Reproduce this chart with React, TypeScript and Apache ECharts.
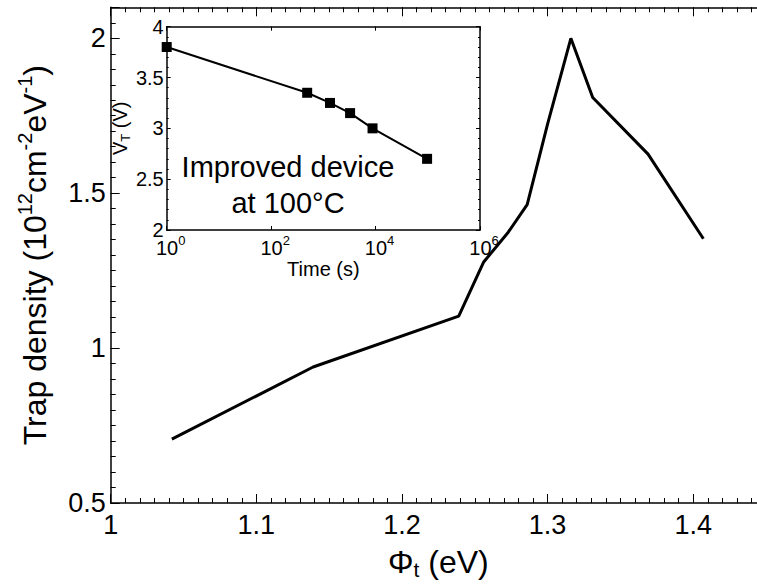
import React, { useEffect, useRef } from 'react';
import * as echarts from 'echarts';

// Main plot: trap density vs trap energy level
const phiT = [1.042, 1.139, 1.239, 1.256, 1.273, 1.286, 1.3, 1.316, 1.331, 1.369, 1.407];
const trapDensity = [0.706, 0.939, 1.103, 1.277, 1.374, 1.463, 1.723, 2.0, 1.809, 1.626, 1.353];

// Inset: threshold voltage vs time
const timeS = [1, 490, 1340, 3250, 8750, 97000];
const vtV = [3.8, 3.35, 3.25, 3.15, 3.0, 2.7];

// Tick labels
const xTickLabels = ['1', '1.1', '1.2', '1.3', '1.4'];
const yTickLabels = ['0.5', '1', '1.5', '2'];
const insetYTickLabels = ['2', '2.5', '3', '3.5', '4'];
const insetXExponents = [0, 2, 4, 6];

const FONT = "'Liberation Sans', Arial, sans-serif";
const BLACK = '#000';

export default function App() {
  const ref = useRef<HTMLDivElement>(null);

  useEffect(() => {
    if (!ref.current) return;
    const chart = echarts.init(ref.current, undefined, { renderer: 'svg' });

    const mainXFmt = (v: number) => {
      const s = String(Math.round(v * 100) / 100);
      return xTickLabels.includes(s) ? s : '';
    };
    const mainYFmt = (v: number) => {
      const s = String(Math.round(v * 100) / 100);
      return yTickLabels.includes(s) ? s : '';
    };
    const insetYFmt = (v: number) => {
      const s = String(Math.round(v * 100) / 100);
      return insetYTickLabels.includes(s) ? s : '';
    };
    const insetXFmt = (v: number) => {
      const e = Math.round(Math.log10(v));
      return insetXExponents.includes(e) ? `{b|10}{s|${e}}` : '';
    };

    const axisLine = { show: true, lineStyle: { color: BLACK, width: 1.5 } };
    const hidden = { show: false };
    const tick = (length: number) => ({
      show: true,
      inside: true,
      length,
      lineStyle: { color: BLACK, width: 1 },
    });

    const mainXBase = { gridIndex: 0, type: 'value' as const, min: 1, max: 1.45, splitLine: hidden };
    const mainYBase = { gridIndex: 0, type: 'value' as const, min: 0.5, max: 2.1, splitLine: hidden };

    const option: any = {
      animation: false,
      backgroundColor: '#fff',
      textStyle: { fontFamily: FONT },
      grid: [
        { left: 110.7, top: 7.3, width: 655.3, height: 495.7, containLabel: false, outerBoundsMode: 'none' },
        { left: 166.7, top: 26.7, width: 313.3, height: 203.3, show: false, outerBoundsMode: 'none' },
      ],
      xAxis: [
        {
          ...mainXBase,
          position: 'bottom',
          interval: 0.01,
          axisLine,
          axisTick: tick(5),
          axisLabel: { formatter: mainXFmt, fontSize: 27, color: BLACK, margin: 8, fontFamily: FONT },
          name: '{a|Φ}{t|t}{a| (eV)}',
          nameLocation: 'middle',
          nameGap: 40,
          nameTextStyle: {
            rich: {
              a: { fontSize: 32, color: BLACK, fontFamily: FONT },
              t: { fontSize: 21, color: BLACK, fontFamily: FONT, padding: [16, 0, 0, 0] },
            },
          },
        },
        { ...mainXBase, position: 'bottom', interval: 0.1, axisLine: hidden, axisTick: tick(9), axisLabel: hidden },
        { ...mainXBase, position: 'top', interval: 0.01, axisLine, axisTick: tick(5), axisLabel: hidden },
        { ...mainXBase, position: 'top', interval: 0.1, axisLine: hidden, axisTick: tick(9), axisLabel: hidden },
        {
          gridIndex: 1,
          type: 'log',
          logBase: 100,
          min: 1,
          max: 1e6,
          position: 'bottom',
          axisLine,
          axisTick: tick(4),
          minorTick: hidden,
          splitLine: hidden,
          axisLabel: {
            formatter: insetXFmt,
            margin: 4,
            rich: {
              b: { fontSize: 20, color: BLACK, fontFamily: FONT, padding: [0, 0, 0, 8] },
              s: { fontSize: 13, color: BLACK, fontFamily: FONT, padding: [0, 0, 14, 0] },
            },
          },
          name: 'Time (s)',
          nameLocation: 'middle',
          nameGap: 29,
          nameTextStyle: { fontSize: 20, color: BLACK, fontFamily: FONT },
        },
        {
          gridIndex: 1,
          type: 'log',
          logBase: 100,
          min: 1,
          max: 1e6,
          position: 'top',
          axisLine,
          axisTick: tick(4),
          minorTick: hidden,
          splitLine: hidden,
          axisLabel: hidden,
        },
      ],
      yAxis: [
        {
          ...mainYBase,
          position: 'left',
          interval: 0.05,
          axisLine,
          axisTick: tick(5),
          axisLabel: { formatter: mainYFmt, fontSize: 27, color: BLACK, margin: 5, fontFamily: FONT },
          name: '{a|Trap density (10}{s|12}{a|cm}{s|-2}{a|eV}{s|-1}{a|)}',
          nameLocation: 'middle',
          nameGap: 56,
          nameTextStyle: {
            rich: {
              a: { fontSize: 32, color: BLACK, fontFamily: FONT },
              s: { fontSize: 20, color: BLACK, fontFamily: FONT, padding: [0, 0, 20, 0] },
            },
          },
        },
        { ...mainYBase, position: 'left', interval: 0.5, axisLine: hidden, axisTick: tick(9), axisLabel: hidden },
        {
          gridIndex: 1,
          type: 'value',
          min: 2,
          max: 4,
          interval: 0.5,
          position: 'left',
          axisLine,
          axisTick: tick(4),
          minorTick: { show: true, splitNumber: 5, length: 2, lineStyle: { color: BLACK, width: 1 } },
          splitLine: hidden,
          axisLabel: { formatter: insetYFmt, fontSize: 20, color: BLACK, margin: 3, fontFamily: FONT },
          name: '{a|V}{t|T}{a| (V)}',
          nameLocation: 'middle',
          nameGap: 22,
          nameTextStyle: {
            rich: {
              a: { fontSize: 20, color: BLACK, fontFamily: FONT },
              t: { fontSize: 13, color: BLACK, fontFamily: FONT, padding: [10, 0, 0, 0] },
            },
          },
        },
        {
          gridIndex: 1,
          type: 'value',
          min: 2,
          max: 4,
          interval: 0.5,
          position: 'right',
          axisLine,
          axisTick: tick(4),
          minorTick: { show: true, splitNumber: 5, length: 2, lineStyle: { color: BLACK, width: 1 } },
          splitLine: hidden,
          axisLabel: hidden,
        },
      ],
      graphic: [
        {
          type: 'text',
          x: 288,
          y: 167,
          z: 100,
          style: {
            text: 'Improved device',
            fontSize: 29,
            fontFamily: FONT,
            fill: BLACK,
            textAlign: 'center',
            textVerticalAlign: 'middle',
          },
        },
        {
          type: 'text',
          x: 288,
          y: 203,
          z: 100,
          style: {
            text: 'at 100°C',
            fontSize: 29,
            fontFamily: FONT,
            fill: BLACK,
            textAlign: 'center',
            textVerticalAlign: 'middle',
          },
        },
      ],
      series: [
        {
          type: 'line',
          xAxisIndex: 0,
          yAxisIndex: 0,
          data: phiT.map((x, i) => [x, trapDensity[i]]),
          showSymbol: false,
          symbol: 'none',
          lineStyle: { color: BLACK, width: 3 },
        },
        {
          type: 'line',
          xAxisIndex: 4,
          yAxisIndex: 2,
          data: timeS.map((t, i) => [t, vtV[i]]),
          symbol: 'rect',
          symbolSize: 10,
          itemStyle: { color: BLACK },
          lineStyle: { color: BLACK, width: 2 },
        },
      ],
    };

    chart.setOption(option);
    return () => chart.dispose();
  }, []);

  return <div ref={ref} style={{ position: 'fixed', left: 0, top: 0, width: 757, height: 584, background: '#fff' }} />;
}
